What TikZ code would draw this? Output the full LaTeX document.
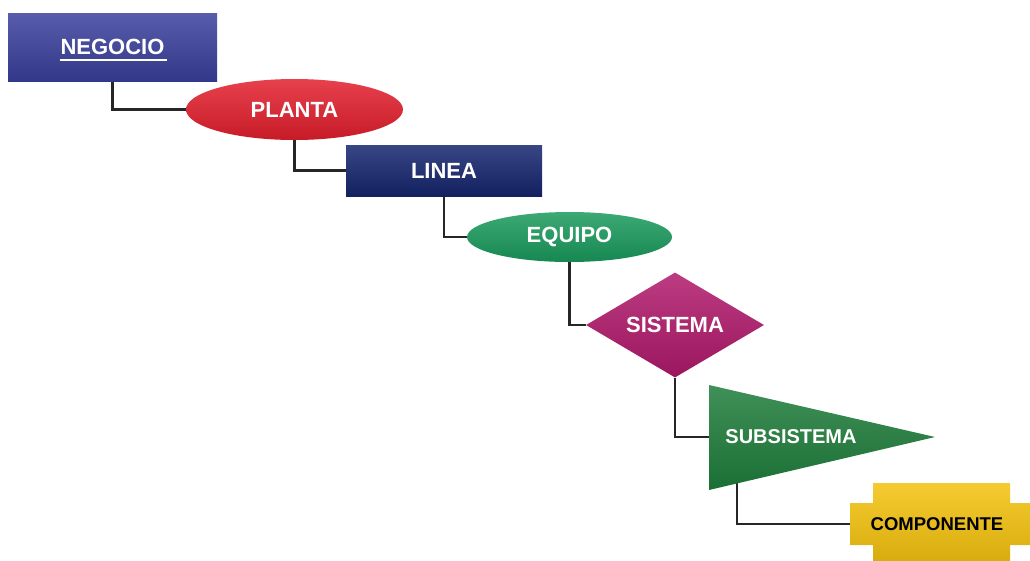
\documentclass[tikz,border=0pt]{standalone}
\usepackage{fontspec}
\setmainfont{Liberation Sans}
\usepackage{tikz}
\usetikzlibrary{shapes.geometric, positioning}
\pgfdeclarelayer{back}
\pgfsetlayers{back,main}
\definecolor{colorNegocio}{HTML}{3A3F9C}
\definecolor{colorPlanta}{HTML}{E21F2D}
\definecolor{colorLinea}{HTML}{16256E}
\definecolor{colorEquipo}{HTML}{1A9A5C}
\definecolor{colorSistema}{HTML}{B0196B}
\definecolor{colorSubsistema}{HTML}{1E7D3B}
\definecolor{colorComponente}{HTML}{F4C20D}
\begin{document}
\begin{tikzpicture}[x=1pt, y=-1pt,
        box/.style={inner sep=0pt, text=white, font=\fontsize{22}{26}\selectfont\bfseries},
        bevel/.style={top color=#1!85!white, middle color=#1, bottom color=#1!88!black},
        link/.style={draw=black!85, line width=2.2pt}]
        \useasboundingbox (0,0) rectangle (1030,560);
        \node[box, rectangle, minimum width=209pt, minimum height=68pt, bevel=colorNegocio] (negocio) at (112.5,47) {NEGOCIO};
        \draw[white, line width=1.8pt] ([xshift=-53pt,yshift=-13pt]negocio.center) -- ([xshift=54pt,yshift=-13pt]negocio.center);
        \node[box, ellipse, minimum width=217pt, minimum height=61pt, bevel=colorPlanta] (planta) at (294.5,109.5) {PLANTA};
        \node[box, rectangle, minimum width=196pt, minimum height=51pt, bevel=colorLinea] (linea) at (444,170.5) {LINEA};
        \node[box, ellipse, minimum width=205pt, minimum height=50pt, bevel=colorEquipo] (equipo) at (569.5,237) {EQUIPO};
        \node[box, diamond, aspect=1.7, minimum width=178pt, minimum height=105pt, bevel=colorSistema] (sistema) at (675,325) {SISTEMA};
        % triangle and cross drawn as paths
        \coordinate (subsistemaTop) at (709,385);
        \coordinate (subsistemaTip) at (935,437);
        \coordinate (subsistemaBot) at (709,490);
        \coordinate (subsistemaBase) at (709,437);
        \coordinate (subsistemaFoot) at (737,483);
        \path[bevel=colorSubsistema] (subsistemaTop) -- (subsistemaTip) -- (subsistemaBot) -- cycle;
        \node[box, font=\fontsize{20}{24}\selectfont\bfseries] (subsistema) at (791,437) {SUBSISTEMA};
        \path[bevel=colorComponente] (873,483) -- (1010,483) -- (1010,503) -- (1035,503) -- (1035,545)
            -- (1010,545) -- (1010,565) -- (873,565) -- (873,545) -- (850,545) -- (850,503) -- (873,503) -- cycle;
        \node[box, text=black, minimum width=174pt, minimum height=42pt, font=\fontsize{18.5}{22}\selectfont\bfseries] (componente) at (937,524) {COMPONENTE};
        \begin{pgfonlayer}{back}
            \fill[white] (0,0) rectangle (1030,560);
            \draw[link] (negocio.south) |- (planta.west);
            \draw[link] (planta.south) |- (linea.west);
            \draw[link] (linea.south) |- (equipo.west);
            \draw[link] (equipo.south) |- (sistema.west);
            \draw[link] (sistema.south) |- (subsistemaBase);
            \draw[link] (subsistemaFoot) |- (componente.west);
        \end{pgfonlayer}
    \end{tikzpicture}
\end{document}
